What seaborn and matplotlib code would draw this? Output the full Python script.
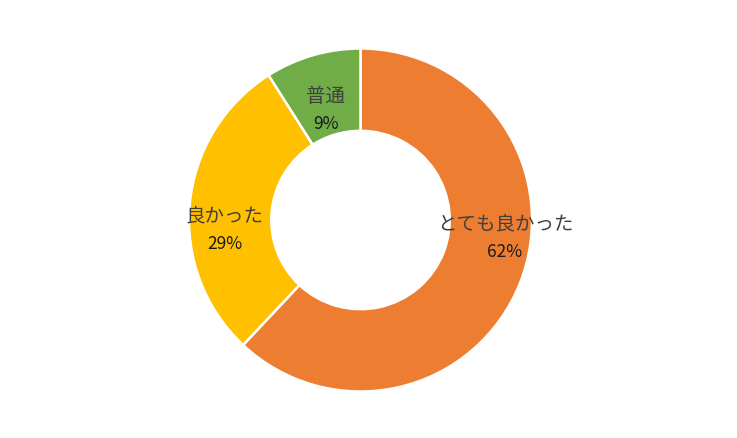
import matplotlib
matplotlib.use("Agg")
import matplotlib.pyplot as plt
import seaborn as sns

categories = ["とても良かった", "良かった", "普通"]
values = [62, 29, 9]
colors = ["#ED7D31", "#FFC000", "#70AD47"]

sns.set_theme(style="white")
plt.rcParams['font.family'] = ['Noto Sans CJK JP', 'DejaVu Sans']

W, H = 737, 439
fig = plt.figure(figsize=(W / 100, H / 100), dpi=100)
ax = fig.add_axes([0, 0, 1, 1])
ax.set_xlim(0, W)
ax.set_ylim(0, H)
ax.set_aspect('equal')
ax.axis('off')

cx, cy = 360.5, H - 221
R = 171.5
hole = 0.52

wedges, _ = ax.pie(values, colors=colors, startangle=90, counterclock=False,
                   center=(cx, cy), radius=R,
                   wedgeprops=dict(width=R * (1 - hole), edgecolor='white', linewidth=1.8))
ax.set_xlim(0, W)
ax.set_ylim(0, H)

# label anchor positions (pixel coords from top)
label_pos = [(505, 224), (225, 216), (326, 96)]
for (x, y), name, v in zip(label_pos, categories, values):
    ax.text(x, H - y, name, ha='center', va='center', fontsize=14, color='#404040')
    ax.text(x, H - (y + 28), f"{v}%", ha='center', va='center', fontsize=12.5, color='#1a1a1a')

fig.savefig("out.png", dpi=100, facecolor='white')
